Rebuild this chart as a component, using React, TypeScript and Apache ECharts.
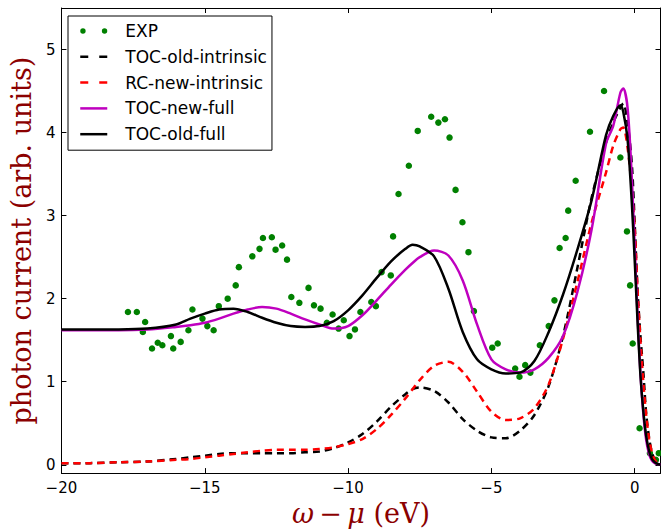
import React, { useEffect, useRef } from "react";
import * as echarts from "echarts";

// Energy grid (eV) used for the theory curves
const xGrid = [-20, -19, -18, -17, -16, -15.5, -15, -14.5, -14, -13.5, -13, -12.5, -12, -11.5, -11, -10.5, -10, -9.5, -9, -8.5, -8, -7.75, -7.5, -7, -6.5, -6, -5.5, -5, -4.5, -4, -3.5, -3, -2.5, -2, -1.5, -1, -0.75, -0.5, -0.4, -0.25, -0.1, 0, 0.1, 0.2, 0.3, 0.4, 0.5, 0.6, 0.7, 0.8, 0.9];

const tocOldIntrinsic = [0.02, 0.02, 0.03, 0.04, 0.07, 0.09, 0.11, 0.13, 0.14, 0.14, 0.14, 0.14, 0.14, 0.15, 0.16, 0.2, 0.27, 0.37, 0.52, 0.7, 0.85, 0.91, 0.93, 0.89, 0.75, 0.55, 0.41, 0.33, 0.32, 0.41, 0.6, 0.95, 1.55, 2.37, 3.22, 3.88, 4.12, 4.3, 4.35, 4.12, 3.62, 2.9, 2.1, 1.55, 1.12, 0.62, 0.33, 0.15, 0.06, 0.02, 0.0];

const rcNewIntrinsic = [0.02, 0.02, 0.03, 0.04, 0.06, 0.07, 0.09, 0.11, 0.13, 0.15, 0.17, 0.18, 0.18, 0.18, 0.19, 0.21, 0.25, 0.31, 0.43, 0.6, 0.8, 0.91, 1.02, 1.19, 1.24, 1.12, 0.88, 0.64, 0.54, 0.56, 0.68, 0.97, 1.52, 2.2, 2.92, 3.52, 3.84, 4.04, 4.06, 3.82, 3.32, 2.85, 2.1, 1.5, 1.0, 0.6, 0.32, 0.15, 0.06, 0.02, 0.0];

const tocNewFull = [1.62, 1.62, 1.62, 1.63, 1.66, 1.68, 1.71, 1.76, 1.82, 1.87, 1.9, 1.88, 1.82, 1.75, 1.69, 1.64, 1.67, 1.8, 1.98, 2.17, 2.35, 2.43, 2.5, 2.58, 2.52, 2.22, 1.69, 1.27, 1.15, 1.11, 1.15, 1.29, 1.55, 2.08, 2.84, 3.87, 4.08, 4.48, 4.53, 4.3, 3.45, 2.62, 1.8, 1.1, 0.62, 0.3, 0.13, 0.05, 0.02, 0.01, 0.0];

const tocOldFull = [1.63, 1.63, 1.63, 1.64, 1.69, 1.76, 1.82, 1.87, 1.88, 1.84, 1.77, 1.71, 1.67, 1.66, 1.67, 1.73, 1.86, 2.04, 2.25, 2.45, 2.6, 2.65, 2.63, 2.51, 2.12, 1.6, 1.27, 1.15, 1.1, 1.11, 1.25, 1.6, 2.05, 2.59, 3.19, 3.97, 4.2, 4.33, 4.25, 3.92, 3.15, 2.46, 1.72, 1.08, 0.65, 0.35, 0.17, 0.07, 0.03, 0.01, 0.0];

// Experimental points
const expX = [-17.68, -17.37, -17.08, -17.16, -16.84, -16.64, -16.48, -16.18, -16.1, -15.84, -15.57, -15.43, -15.08, -14.91, -14.69, -14.51, -14.2, -13.92, -13.81, -13.34, -13.09, -12.97, -12.66, -12.53, -12.3, -12.13, -11.98, -11.7, -11.38, -11.19, -10.96, -10.74, -10.54, -10.33, -10.15, -9.95, -9.76, -9.57, -9.19, -9.03, -8.83, -8.51, -8.43, -8.24, -7.88, -7.57, -7.1, -6.85, -6.62, -6.46, -6.25, -6.01, -5.8, -5.61, -4.97, -4.78, -4.17, -4.02, -3.82, -3.64, -3.31, -3.0, -2.8, -2.62, -2.41, -2.32, -2.06, -1.56, -1.07, -0.5, -0.27, -0.16, -0.07, 0.17, 0.53, 0.74, 0.84];
const expY = [1.84, 1.84, 1.72, 1.6, 1.4, 1.47, 1.44, 1.55, 1.4, 1.48, 1.62, 1.87, 1.76, 1.67, 1.62, 1.91, 2.0, 2.16, 2.38, 2.51, 2.6, 2.73, 2.74, 2.59, 2.64, 2.47, 2.02, 1.95, 2.13, 1.92, 1.88, 1.71, 1.81, 1.64, 1.74, 1.55, 1.63, 1.84, 1.96, 1.91, 2.32, 2.28, 2.75, 3.26, 3.6, 4.02, 4.19, 4.12, 4.16, 3.94, 3.31, 2.92, 2.56, 1.85, 1.41, 1.46, 1.16, 1.06, 1.2, 1.11, 1.44, 1.67, 1.98, 2.61, 2.73, 3.06, 3.42, 4.01, 4.5, 3.7, 2.81, 2.16, 1.46, 0.44, 0.14, 0.06, 0.14];

const xTicks = [-20, -15, -10, -5, 0];
const yTicks = [0, 1, 2, 3, 4, 5];

const TITLE_COLOR = "#8b0000";
const SANS = "DejaVu Sans";
const SERIF = "DejaVu Serif";

const zip = (xs: number[], ys: number[]) => xs.map((x, i) => [x, ys[i]]);
const fmt = (v: number) => String(v).replace("-", "\u2212");

export default function App() {
  const ref = useRef<HTMLDivElement>(null);
  useEffect(() => {
    if (!ref.current) return;
    const chart = echarts.init(ref.current, undefined, { renderer: "svg" });
    const lineBase = (name: string, data: number[], color: string, dashed: boolean) => ({
      name,
      type: "line",
      data: zip(xGrid, data),
      symbol: "none",
      showSymbol: false,
      smooth: 0.3,
      lineStyle: { color, width: 2.5, type: dashed ? [7, 5] : "solid" },
      itemStyle: { color },
      z: 3,
    });
    const axisCommonX = {
      type: "value",
      min: -20,
      max: 0.9,
      splitLine: { show: false },
      axisLine: { show: true, onZero: false, lineStyle: { color: "#000", width: 1 } },
      axisTick: { show: true, inside: true, length: 5, customValues: xTicks, lineStyle: { color: "#000" } },
    };
    const axisCommonY = {
      type: "value",
      min: -0.1,
      max: 5.5,
      splitLine: { show: false },
      axisLine: { show: true, onZero: false, lineStyle: { color: "#000", width: 1 } },
      axisTick: { show: true, inside: true, length: 5, customValues: yTicks, lineStyle: { color: "#000" } },
    };
    const lineLegend = (name: string, dashed: boolean) => ({
      name,
      itemStyle: { color: "rgba(0,0,0,0)", borderWidth: 0 },
      lineStyle: { width: 2.5, type: dashed ? [8, 11] : "solid" },
    });
    chart.setOption({
      animation: false,
      backgroundColor: "#fff",
      grid: { left: 59, top: 8, width: 601.5, height: 467, containLabel: false },
      legend: {
        orient: "vertical",
        left: 68,
        top: 16,
        padding: [5, 5, 6, 11],
        itemWidth: 27,
        itemHeight: 14,
        itemGap: 5.8,
        borderColor: "#000",
        borderWidth: 1,
        borderRadius: 0,
        backgroundColor: "#fff",
        textStyle: { fontFamily: SANS, fontSize: 17, color: "#000", lineHeight: 20, padding: [0, 0, 0, 13] },
        data: [
          { name: "EXP", icon: "path://M0,3a3,3 0 1,0 6,0a3,3 0 1,0 -6,0zM24,3a3,3 0 1,0 6,0a3,3 0 1,0 -6,0z" },
          lineLegend("TOC-old-intrinsic", true),
          lineLegend("RC-new-intrinsic", true),
          lineLegend("TOC-new-full", false),
          lineLegend("TOC-old-full", false),
        ],
      },
      xAxis: [
        {
          ...axisCommonX,
          position: "bottom",
          axisLabel: { show: true, customValues: xTicks, formatter: fmt, fontFamily: SANS, fontSize: 15, color: "#000", margin: 7 },
          name: "{i|\u03c9}{n|\u2009\u2212\u2009}{i|\u03bc}{n| (eV)}",
          nameLocation: "middle",
          nameGap: 24,
          nameTextStyle: {
            rich: {
              i: { fontFamily: SERIF, fontStyle: "italic", fontSize: 27, color: TITLE_COLOR },
              n: { fontFamily: SERIF, fontSize: 27, color: TITLE_COLOR },
            },
          },
        },
        { ...axisCommonX, position: "top", axisLabel: { show: false } },
      ],
      yAxis: [
        {
          ...axisCommonY,
          position: "left",
          axisLabel: { show: true, customValues: yTicks, formatter: fmt, fontFamily: SANS, fontSize: 15, color: "#000", margin: 6 },
          name: "photon current (arb. units)",
          nameLocation: "middle",
          nameRotate: 90,
          nameGap: 21,
          nameTextStyle: { fontFamily: SERIF, fontSize: 27, color: TITLE_COLOR },
        },
        { ...axisCommonY, position: "right", axisLabel: { show: false } },
      ],
      series: [
        {
          name: "EXP",
          type: "scatter",
          data: zip(expX, expY),
          symbol: "circle",
          symbolSize: 6.5,
          itemStyle: { color: "#008000", opacity: 1 },
          z: 2,
        },
        lineBase("TOC-old-intrinsic", tocOldIntrinsic, "#000000", true),
        lineBase("RC-new-intrinsic", rcNewIntrinsic, "#ff0000", true),
        lineBase("TOC-new-full", tocNewFull, "#bf00bf", false),
        lineBase("TOC-old-full", tocOldFull, "#000000", false),
      ],
    });
    return () => chart.dispose();
  }, []);
  return <div ref={ref} style={{ width: 661, height: 532, position: "absolute", left: 0, top: 0 }} />;
}
